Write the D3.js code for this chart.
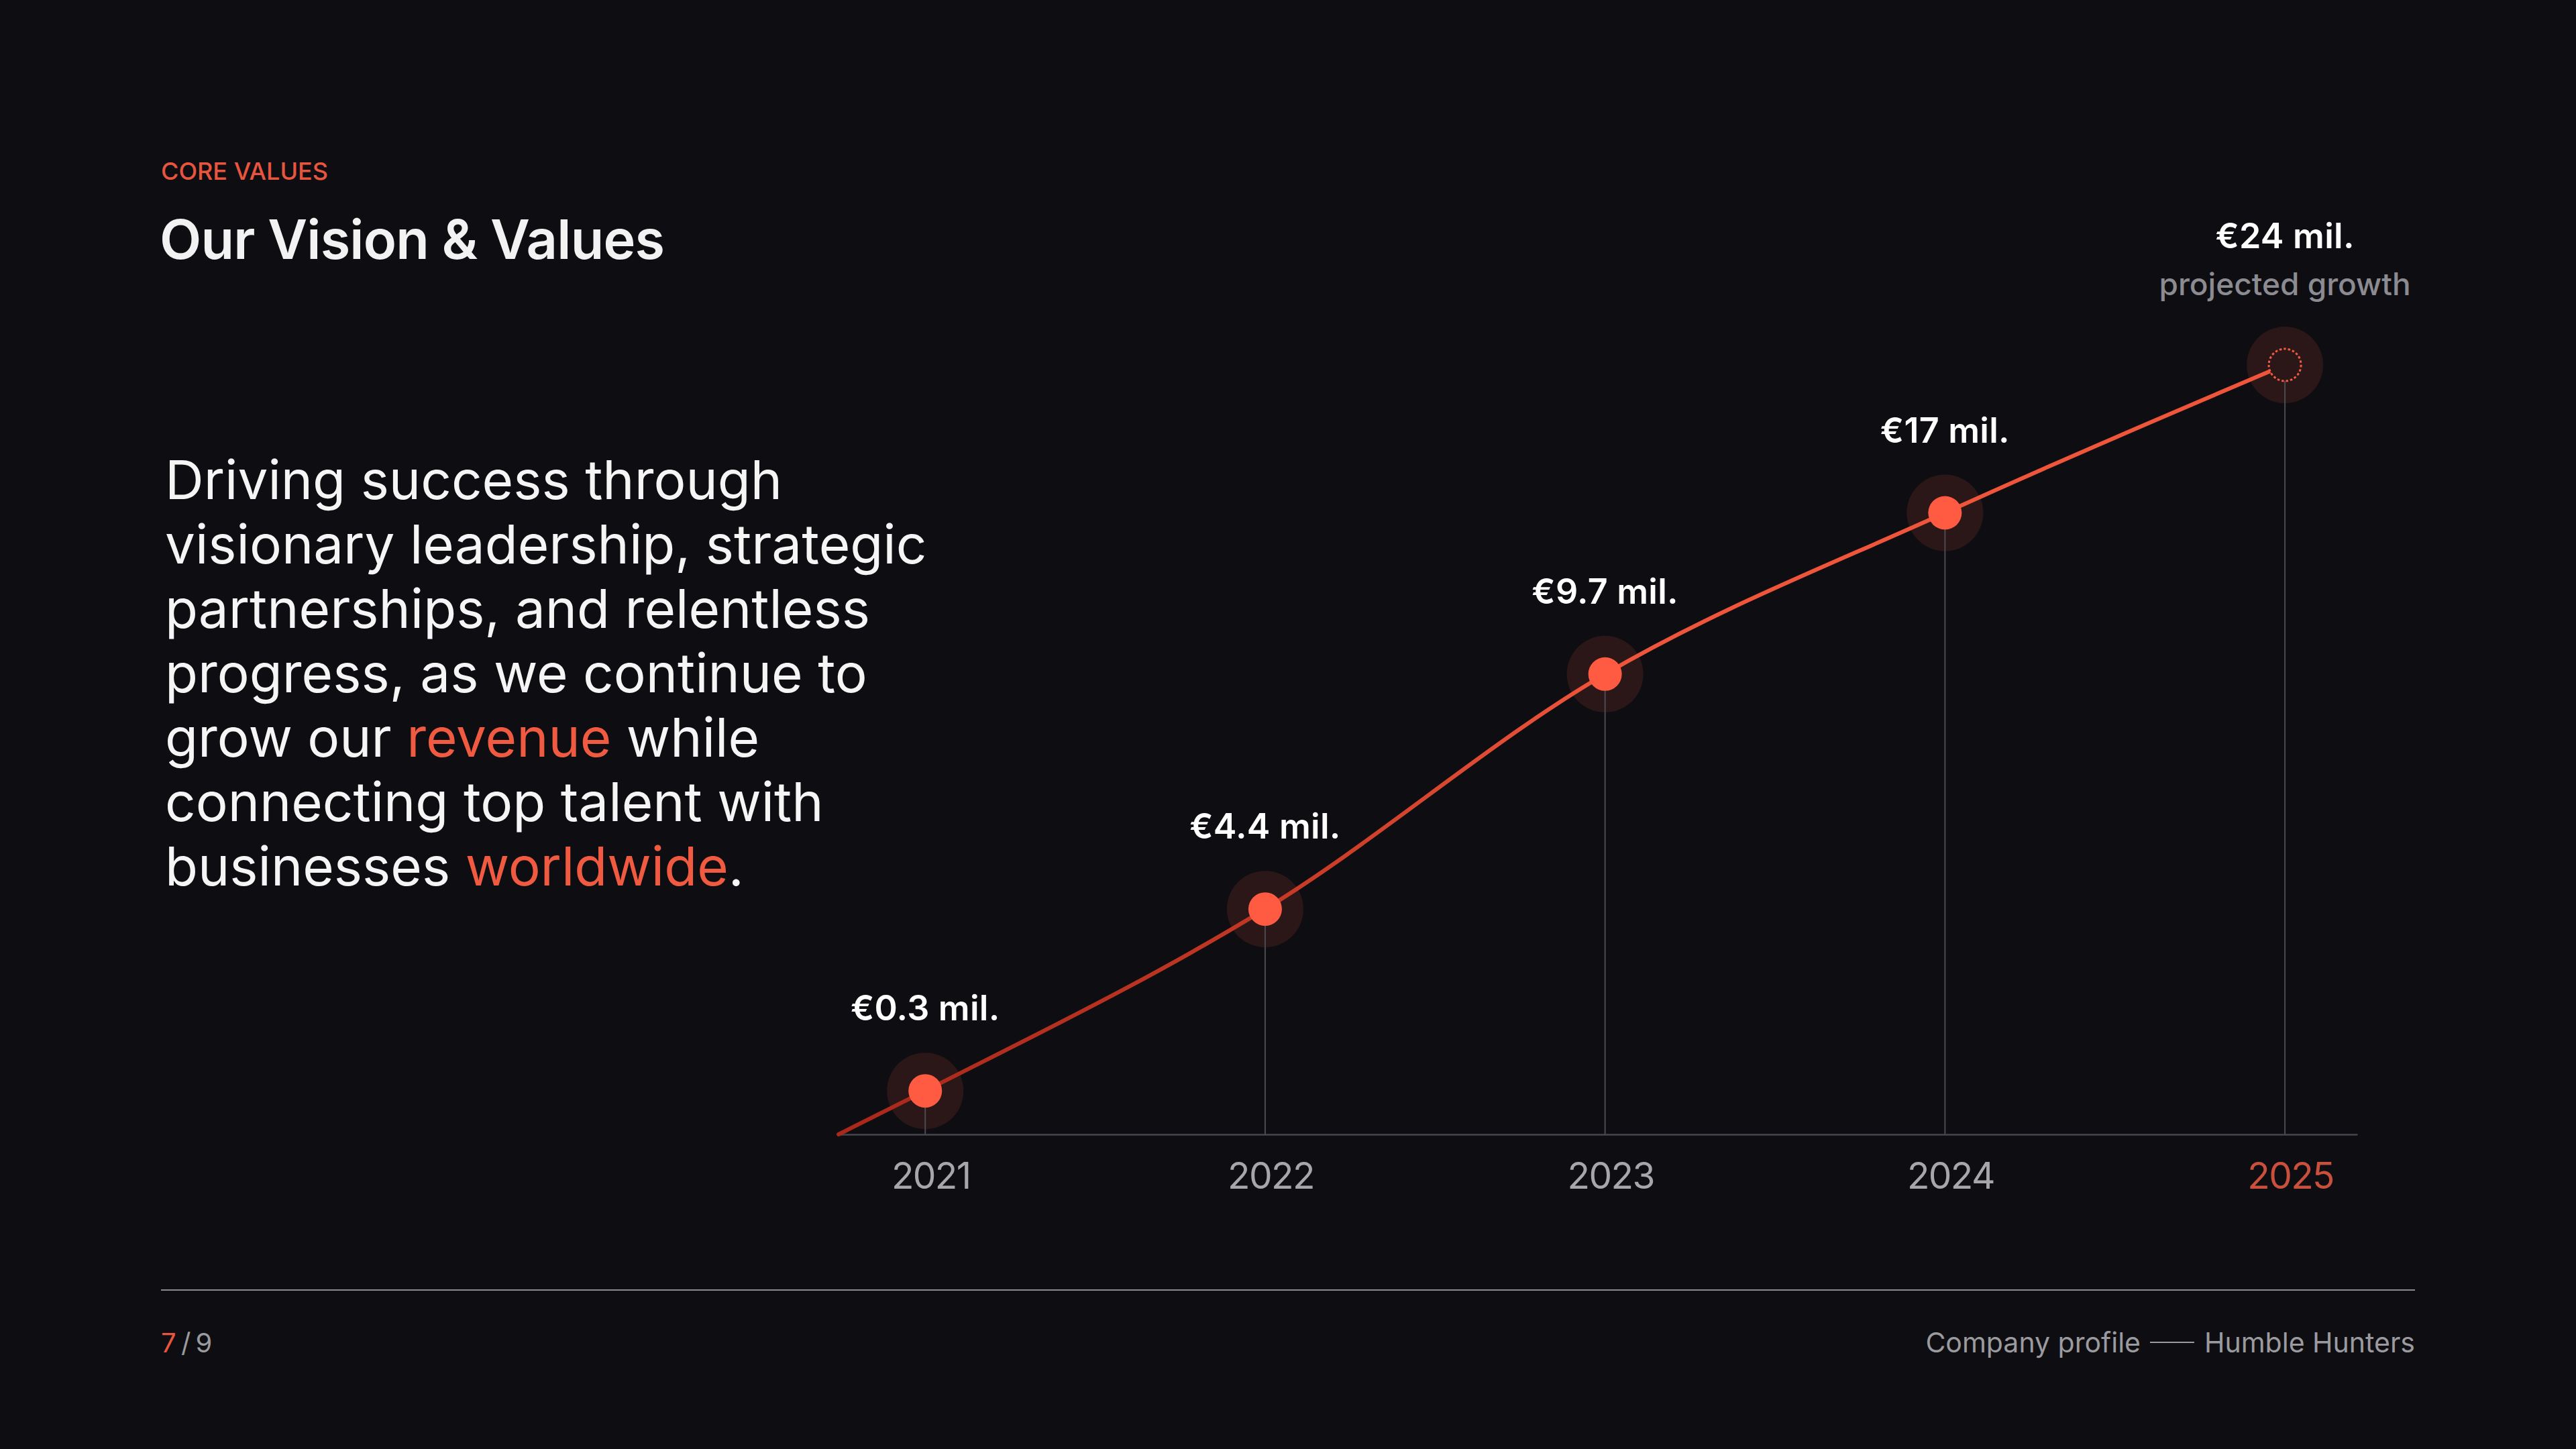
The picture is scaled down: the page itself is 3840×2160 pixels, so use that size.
<!DOCTYPE html>
<html>
<head>
<meta charset="utf-8">
<script src="https://cdn.jsdelivr.net/npm/d3@7"></script>
<style>
  html, body { margin: 0; padding: 0; background: #0e0e12; }
  svg { display: block; }
  text { font-family: "Inter", "Noto Sans", sans-serif; }
</style>
</head>
<body>
<script>
const W = 3840; // width
const H = 2160; // height

// data
const years = [2021, 2022, 2023, 2024, 2025];
const revenue = [0.3, 4.4, 9.7, 17, 24]; // € millions
const valueLabels = ["€0.3 mil.", "€4.4 mil.", "€9.7 mil.", "€17 mil.", "€24 mil."];
const projectedYear = 2025;
const projectedNote = "projected growth";

const kicker = "CORE VALUES";
const title = "Our Vision & Values";
// each line is a list of [text, highlighted?]
const bodyLines = [
    [["Driving success through", false]],
    [["visionary leadership, strategic", false]],
    [["partnerships, and relentless", false]],
    [["progress, as we continue to", false]],
    [["grow our ", false], ["revenue", true], [" while", false]],
    [["connecting top talent with", false]],
    [["businesses ", false], ["worldwide", true], [".", false]]
];
const pageNo = "7";
const pageTotal = "9";
const footerLeft = "Company profile";
const footerRight = "Humble Hunters";

// colours
const bg = "#0e0e12";
const accent = "#f05a40";
const halo = "#2b1718";
const grey = "#9a9a9f";

const data = years.map((y, i) => ({ year: y, value: revenue[i], label: valueLabels[i] }));

let svg = d3.select("body")
    .append("svg")
    .attr("width", W)
    .attr("height", H);

svg.append("rect").attr("width", W).attr("height", H).attr("fill", bg);

// ---------- header ----------
svg.append("text")
    .attr("x", 240)
    .attr("y", 268)
    .attr("fill", "#e8553e")
    .attr("font-size", 36)
    .attr("font-weight", 500)
    .text(kicker);

svg.append("text")
    .attr("x", 238)
    .attr("y", 386)
    .attr("fill", "#f2f2f2")
    .attr("font-size", 81)
    .attr("font-weight", 600)
    .attr("letter-spacing", "-0.01em")
    .text(title);

// ---------- body text ----------
let body = svg.append("text")
    .attr("x", 246)
    .attr("y", 744)
    .attr("font-size", 80)
    .attr("font-weight", 400)
    .attr("fill", "#f5f5f5");

bodyLines.forEach((line, i) => {
    line.forEach((seg, j) => {
        let t = body.append("tspan")
            .attr("fill", seg[1] ? accent : "#f5f5f5")
            .text(seg[0]);
        if (j === 0) t.attr("x", 246).attr("dy", i === 0 ? 0 : 96);
    });
});

// ---------- chart ----------
const axisY = 1691;

// x scale, padded a little past the first and last year
let x = d3.scaleLinear()
    .domain([2021 - 0.255, 2025 + 0.213])
    .range([1250, 3514]);

// polylinear y: steeper below €10 mil., flatter above
let y = d3.scaleLinear()
    .domain([0, 10, 24])
    .range([1646, 985, 544]);

let defs = svg.append("defs");
let grad = defs.append("linearGradient")
    .attr("id", "lineGrad")
    .attr("gradientUnits", "userSpaceOnUse")
    .attr("x1", x.range()[0]).attr("x2", x(2023))
    .attr("y1", 0).attr("y2", 0);
grad.append("stop").attr("offset", "0%").attr("stop-color", "#a8281a");
grad.append("stop").attr("offset", "55%").attr("stop-color", "#c23724");
grad.append("stop").attr("offset", "100%").attr("stop-color", "#ef553b");

// x axis
let axis = svg.append("g")
    .attr("transform", `translate(0,${axisY})`)
    .call(d3.axisBottom(x)
        .tickValues(years)
        .tickFormat(d3.format("d"))
        .tickSize(0)
        .tickSizeOuter(0)
        .tickPadding(42));

axis.select(".domain")
    .attr("stroke", "#46464c")
    .attr("stroke-width", 2.5);

axis.selectAll(".tick text")
    .attr("font-family", "Inter, sans-serif")
    .attr("font-size", 55)
    .attr("font-weight", 400)
    .attr("letter-spacing", "-0.03em")
    .attr("dx", 8)
    .attr("fill", (d) => d === projectedYear ? "#c8503c" : "#a6a6ab");

// halos
svg.selectAll(".halo")
    .data(data)
    .enter()
    .append("circle")
    .attr("class", "halo")
    .attr("cx", (d) => x(d.year))
    .attr("cy", (d) => y(d.value))
    .attr("r", 57)
    .attr("fill", halo);

// guide lines down to the axis
svg.selectAll(".guide")
    .data(data)
    .enter()
    .append("line")
    .attr("class", "guide")
    .attr("x1", (d) => x(d.year))
    .attr("x2", (d) => x(d.year))
    .attr("y1", (d) => y(d.value))
    .attr("y2", axisY)
    .attr("stroke", "#4a4a50")
    .attr("stroke-width", 2);

// revenue line, leading in from the left end of the axis
let pts = [[x.range()[0], axisY]].concat(data.map((d) => [x(d.year), y(d.value)]));

svg.append("path")
    .datum(pts)
    .attr("fill", "none")
    .attr("stroke", "url(#lineGrad)")
    .attr("stroke-width", 6)
    .attr("stroke-linecap", "round")
    .attr("d", d3.line().curve(d3.curveMonotoneX));

// dots (projected year gets a dashed ring)
svg.selectAll(".dot")
    .data(data)
    .enter()
    .append("circle")
    .attr("class", "dot")
    .attr("cx", (d) => x(d.year))
    .attr("cy", (d) => y(d.value))
    .attr("r", (d) => d.year === projectedYear ? 24 : 25)
    .attr("fill", (d) => d.year === projectedYear ? halo : "#ff5b42")
    .attr("stroke", (d) => d.year === projectedYear ? accent : "none")
    .attr("stroke-width", 3)
    .attr("stroke-dasharray", (d) => d.year === projectedYear ? "3.5 3" : null);

// value labels
svg.selectAll(".val")
    .data(data)
    .enter()
    .append("text")
    .attr("class", "val")
    .attr("x", (d) => x(d.year))
    .attr("y", (d) => y(d.value) - (d.year === projectedYear ? 174 : 105))
    .attr("text-anchor", "middle")
    .attr("fill", "#ffffff")
    .attr("font-size", 52)
    .attr("font-weight", 600)
    .attr("letter-spacing", "0.005em")
    .text((d) => d.label);

svg.append("text")
    .attr("x", x(projectedYear))
    .attr("y", y(revenue[years.indexOf(projectedYear)]) - 104)
    .attr("text-anchor", "middle")
    .attr("fill", "#8b8b91")
    .attr("font-size", 46)
    .attr("font-weight", 500)
    .text(projectedNote);

// ---------- footer ----------
svg.append("line")
    .attr("x1", 240).attr("x2", 3600)
    .attr("y1", 1923).attr("y2", 1923)
    .attr("stroke", "#8a8a8f")
    .attr("stroke-width", 2);

let pager = svg.append("text")
    .attr("x", 240)
    .attr("y", 2016)
    .attr("font-size", 40)
    .attr("fill", grey);
pager.append("tspan").attr("fill", "#e8553e").text(pageNo);
pager.append("tspan").text("\u2009/\u2009" + pageTotal);

let right = svg.append("text")
    .attr("x", 3600)
    .attr("y", 2016)
    .attr("text-anchor", "end")
    .attr("font-size", 41)
    .attr("fill", grey)
    .text(footerRight);

let rb = right.node().getBBox();
svg.append("line")
    .attr("x1", rb.x - 81).attr("x2", rb.x - 15)
    .attr("y1", 2001).attr("y2", 2001)
    .attr("stroke", grey)
    .attr("stroke-width", 2);

svg.append("text")
    .attr("x", rb.x - 95)
    .attr("y", 2016)
    .attr("text-anchor", "end")
    .attr("font-size", 41)
    .attr("fill", grey)
    .text(footerLeft);
</script>
</body>
</html>
